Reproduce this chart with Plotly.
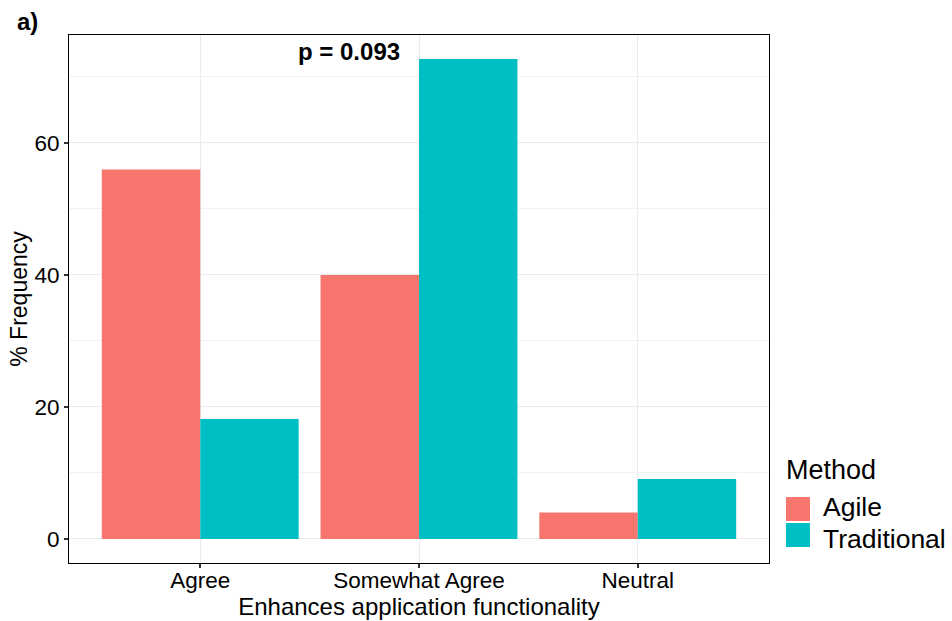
import plotly.graph_objects as go

categories = ["Agree", "Somewhat Agree", "Neutral"]
agile = [56.0, 40.0, 4.0]
traditional = [18.18, 72.73, 9.09]
y_ticks = [0, 20, 40, 60]
series_names = ["Agile", "Traditional"]
series_colors = ["#F8766D", "#00BFC4"]

FONT = "Liberation Sans, Arial, sans-serif"

L, R, T, B = 69, 183, 35, 58
W, H = 952, 621
PW, PH = W - L - R, H - T - B


def px(x):
    return (x - L) / PW


def py(y):
    return (H - B - y) / PH


fig = go.Figure()
for name, vals, col in zip(series_names, [agile, traditional], series_colors):
    fig.add_trace(go.Bar(x=categories, y=vals, name=name, marker_color=col,
                         marker_line_width=0, showlegend=False))

fig.update_layout(
    width=W, height=H,
    barmode="group", bargap=0.1, bargroupgap=0,
    plot_bgcolor="white", paper_bgcolor="white",
    margin=dict(l=L, r=R, t=T, b=B),
    font=dict(family=FONT, color="black"),
    xaxis=dict(
        range=[-0.6, 2.6], automargin=False,
        showline=True, linecolor="black", linewidth=1, mirror=True,
        showgrid=True, gridcolor="#EBEBEB", gridwidth=1,
        ticks="outside", ticklen=4, tickwidth=2, tickcolor="#333333",
        tickfont=dict(size=22.5), ticklabelstandoff=-7,
        title=dict(text="Enhances application functionality", font=dict(size=24), standoff=0),
    ),
    yaxis=dict(
        range=[-3.64, 76.36], automargin=False,
        tickvals=y_ticks,
        showline=True, linecolor="black", linewidth=1, mirror=True,
        showgrid=True, gridcolor="#EBEBEB", gridwidth=1,
        zeroline=False,
        ticks="outside", ticklen=4, tickwidth=2, tickcolor="#333333",
        tickfont=dict(size=22.5),
        minor=dict(tickvals=[10, 30, 50, 70], showgrid=True, gridcolor="#F2F2F2", ticks=""),
        title=dict(text="% Frequency", font=dict(size=23), standoff=0),
    ),
)

# legend drawn manually to match ggplot key size
fig.add_annotation(text="Method", xref="paper", yref="paper", x=px(784), y=py(470),
                   xanchor="left", yanchor="middle", showarrow=False, font=dict(size=27))
for i, (name, col) in enumerate(zip(series_names, series_colors)):
    top = 497 + i * 26
    fig.add_shape(type="rect", xref="paper", yref="paper",
                  x0=px(786), x1=px(810), y0=py(top), y1=py(top + 24),
                  fillcolor=col, line_width=0)
    fig.add_annotation(text=name, xref="paper", yref="paper", x=px(822), y=py(523),
                       xanchor="left", yanchor="bottom" if i == 0 else "top",
                       showarrow=False, font=dict(size=26.5), borderpad=0)

fig.add_annotation(text="<b>a)</b>", xref="paper", yref="paper", x=px(15), y=py(22),
                   xanchor="left", yanchor="middle", showarrow=False, font=dict(size=24))
fig.add_annotation(text="<b>p = 0.093</b>", xref="x", yref="y", x=0.68, y=73.8,
                   xanchor="center", yanchor="middle", showarrow=False, font=dict(size=24))

fig.write_html("out.html")
